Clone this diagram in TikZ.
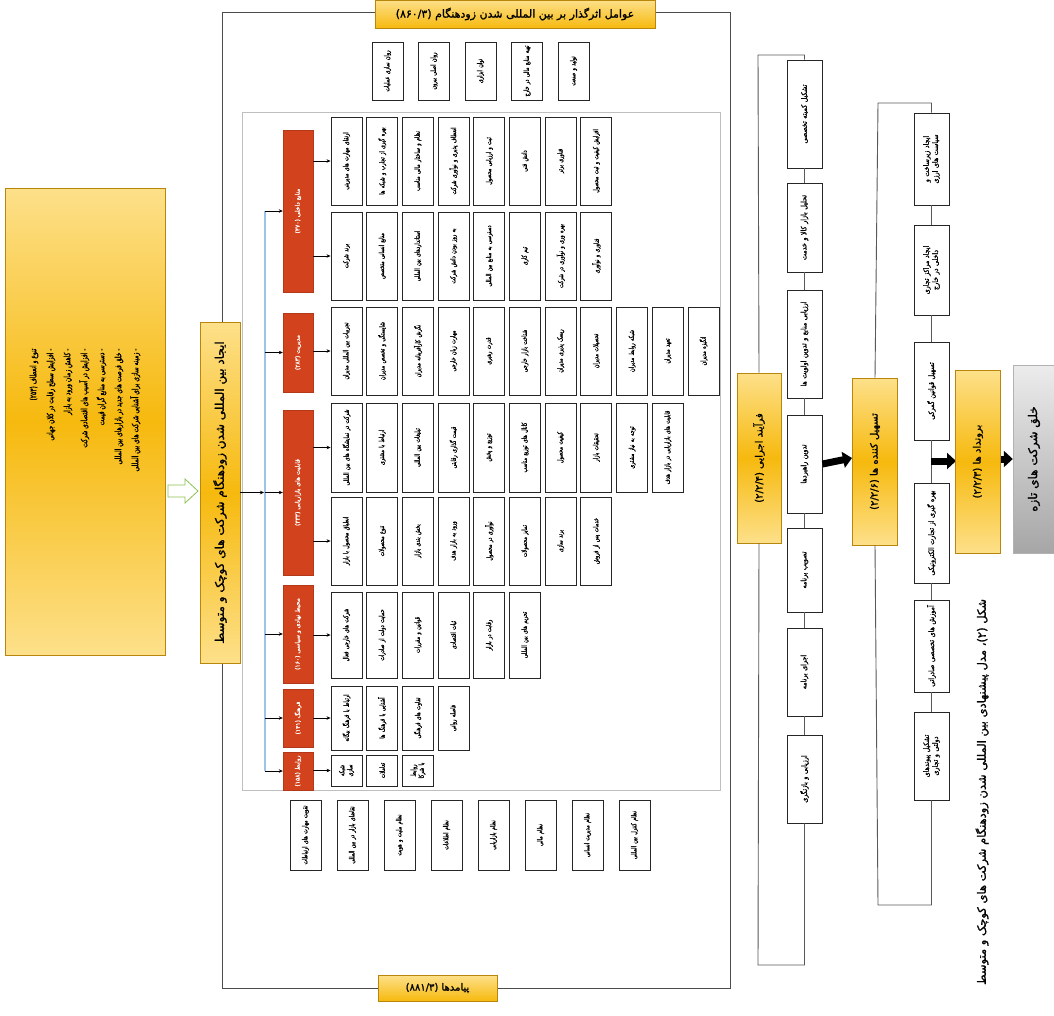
\documentclass[tikz,border=0pt]{standalone}
\usepackage{fontspec}
\newfontfamily\fa[Script=Arabic, FakeBold=1.3, FakeStretch=0.85]{DejaVu Sans}
\newfontfamily\fan[Script=Arabic, FakeBold=1.4, FakeStretch=0.7]{DejaVu Sans}
\newfontfamily\faw[Script=Arabic, FakeBold=1.3]{DejaVu Sans}
\TeXXeTstate=1
\usetikzlibrary{arrows.meta}
\newcommand\fl[1]{\beginR #1\endR}
\definecolor{ylight}{HTML}{FDE08A}
\definecolor{ymid}{HTML}{F6B90E}
\definecolor{yedge}{HTML}{B8860B}
\definecolor{redbox}{HTML}{D2431D}
\definecolor{blueline}{HTML}{9DC3E6}
\definecolor{greenar}{HTML}{8CC152}
\tikzset{
 sbox/.style={draw=black!85, line width=0.9pt, fill=white, rotate=90, font=\fan\fontsize{7}{8}\selectfont, align=center, inner sep=1pt, minimum height=31pt},
 rbox/.style={fill=redbox, draw=redbox!85!black, rotate=90, text=white, font=\faw\fontsize{6}{7}\selectfont, minimum height=30pt, inner sep=1pt},
 ybox/.style={rotate=90, top color=ylight, bottom color=ylight, middle color=ymid, draw=yedge, line width=0.6pt, font=\faw\fontsize{10}{11}\selectfont, inner sep=1pt},
 arr/.style={-{Stealth[length=4pt,width=3.5pt]}, line width=0.6pt, black},
 blk/.style={-{Triangle[length=9pt,width=16pt]}, line width=7pt, black},
 gline/.style={draw=black!65, line width=0.9pt},
}
\newcommand\SB[5]{\pgfmathsetmacro\bw{#4-#3}\pgfmathsetmacro\tw{#4-#3-6}\pgfmathsetmacro\cx{#2+15.5}\pgfmathsetmacro\cy{(#3+#4)/2}\node[sbox, minimum width=\bw pt, text width=\tw pt] (#1) at (\cx,\cy) {\fl{#5}};}
\newcommand\VB[5]{\pgfmathsetmacro\bw{#4-#3}\pgfmathsetmacro\tw{#4-#3-8}\pgfmathsetmacro\cy{(#3+#4)/2}\node[sbox, font=\fa\fontsize{7.5}{9}\selectfont, minimum height=35pt, minimum width=\bw pt, text width=\tw pt] (#1) at (#2,\cy) {#5};}
\begin{document}
\begin{tikzpicture}[x=1pt,y=-1pt]
\useasboundingbox (0,0) rectangle (1054,1015);
\fill[white] (0,0) rectangle (1054,1015);

% ---------- left input box
\node[rotate=90, top color=ylight, bottom color=ylight, middle color=ymid, draw=yedge, line width=0.6pt, minimum width=467pt, minimum height=160pt] (inp) at (85,421.5) {};
\node[rotate=90, font=\fan\fontsize{8.5}{17}\selectfont, align=right, inner sep=0pt] (inptext) at (85,410) {%
\fl{تنوع و انعطاف (۲۵۳)}\\
\fl{- افزایش سطح رقابت در کلان جهانی}\\
\fl{- کاهش زمان ورود به بازار}\\
\fl{- افزایش در آسیب های اقتصادی شرکت}\\
\fl{- دسترسی به منابع گران قیمت}\\
\fl{- خلق فرصت های جدید در بازارهای بین المللی}\\
\fl{- زمینه سازی برای آشنایی شرکت های بین المللی}};

% ---------- big frame
\node[draw=black!70, line width=0.9pt, minimum width=508pt, minimum height=976pt, inner sep=0pt] (frame) at (476,500) {};
\node[draw=black!25, line width=0.7pt, minimum width=478pt, minimum height=678pt, inner sep=0pt] (inner) at (481,451) {};

% green hollow arrow
\draw[greenar, line width=0.8pt, fill=white] (168,485) -- (185,485) -- (185,479) -- (198,491) -- (185,503) -- (185,497) -- (168,497) -- cycle;

% main yellow box
\node[ybox, minimum width=341pt, minimum height=40pt, font=\faw\fontsize{12}{13}\selectfont] (main) at (220,492.5) {\fl{ایجاد بین المللی شدن زودهنگام شرکت های کوچک و متوسط}};

% top / bottom labels of frame
\node[top color=ylight, bottom color=ymid, draw=yedge, line width=0.6pt, minimum width=280pt, minimum height=28pt, font=\faw\fontsize{11}{12}\selectfont, inner sep=1pt] (toplab) at (515,14) {\beginR عوامل اثرگذار بر بین المللی شدن زودهنگام \beginL(۸۶۰/۳)\endL\endR};
\node[top color=ylight, bottom color=ymid, draw=yedge, line width=0.6pt, minimum width=119pt, minimum height=26pt, font=\faw\fontsize{10}{11}\selectfont, inner sep=1pt] (botlab) at (437.5,988) {\beginR پیامدها \beginL(۸۸۱/۳)\endL\endR};

% top row boxes (outside inner box)
\foreach \t [count=\i from 0] in {روان سازی عملیات, روان اصلی بیرون, توان ابزاری, تهیه منابع مالی در خارج, تولید و صنعت}{%
 \pgfmathsetmacro\xl{372+46.5*\i}\SB{top\i}{\xl}{42}{100}{\t}}
% bottom row boxes
\foreach \t [count=\i from 0] in {تقویت مهارت های ارتباطات, تقاضای بازار در بین المللی, نظام ملیت و هویت, نظام اطلاعات, نظام بازاریابی, نظام مالی, نظام مدیریت انسانی, نظام کنترل بین المللی}{%
 \pgfmathsetmacro\xl{290+47*\i}\SB{bot\i}{\xl}{800}{870}{\t}}

% ---------- red boxes
\node[rbox, minimum width=162pt] (r1) at (298,211) {\fl{منابع داخلی (۴۷۰)}};
\node[rbox, minimum width=79pt] (r2) at (298,352.5) {\fl{مدیریت (۲۸۳)}};
\node[rbox, minimum width=165pt] (r3) at (298,492.5) {\fl{قابلیت های بازاریابی (۳۳۳)}};
\node[rbox, minimum width=98pt] (r4) at (298,634) {\fl{محیط نهادی و سیاسی (۱۶۰)}};
\node[rbox, minimum width=58pt] (r5) at (298,718) {\fl{فرهنگ (۱۳۱)}};
\node[rbox, minimum width=38pt] (r6) at (298,771) {\fl{روابط (۱۵۸)}};

% ---------- group rows
\foreach \t [count=\i from 0] in {ارتقای مهارت های مدیریتی, بهره گیری از تجارب و شبکه ها, نظام و ساختار مالی مناسب, انعطاف پذیری و نوآوری شرکت, ثبت و ارزیابی محصول, دانش فنی, فناوری برتر, افزایش کیفیت و ثبت محصول}{%
 \pgfmathsetmacro\xl{331+35.7*\i}\SB{ga\i}{\xl}{117}{205}{\t}}
\foreach \t [count=\i from 0] in {برند شرکت, منابع انسانی متخصص, استانداردهای بین المللی, به روز بودن دانش شرکت, دسترسی به منابع بین المللی, تیم کاری, بهره وری و نوآوری در شرکت, فناوری و نوآوری}{%
 \pgfmathsetmacro\xl{331+35.7*\i}\SB{gb\i}{\xl}{212}{300}{\t}}
\foreach \t [count=\i from 0] in {تجربیات بین المللی مدیران, شایستگی و تخصص مدیران, نگرش کارآفرینانه مدیران, مهارت زبان خارجی, قدرت رهبری, شناخت بازار خارجی, ریسک پذیری مدیران, تحصیلات مدیران, شبکه روابط مدیران, تعهد مدیران, انگیزه مدیران}{%
 \pgfmathsetmacro\xl{331+35.7*\i}\SB{gc\i}{\xl}{307}{395}{\t}}
\foreach \t [count=\i from 0] in {شرکت در نمایشگاه های بین المللی, ارتباط با مشتری, تبلیغات بین المللی, قیمت گذاری رقابتی, توزیع و پخش, کانال های توزیع مناسب, کیفیت محصول, تحقیقات بازار, توجه به نیاز مشتری, قابلیت های بازاریابی در بازار هدف}{%
 \pgfmathsetmacro\xl{331+35.7*\i}\SB{gd\i}{\xl}{403}{492}{\t}}
\foreach \t [count=\i from 0] in {انطباق محصول با بازار, تنوع محصولات, بخش بندی بازار, ورود به بازار هدف, نوآوری در محصول, تمایز محصولات, برند سازی, خدمات پس از فروش}{%
 \pgfmathsetmacro\xl{331+35.7*\i}\SB{ge\i}{\xl}{497}{585}{\t}}
\foreach \t [count=\i from 0] in {شرکت های خارجی فعال, حمایت دولت از صادرات, قوانین و مقررات, ثبات اقتصادی, رقابت در بازار, تحریم های بین المللی}{%
 \pgfmathsetmacro\xl{331+35.7*\i}\SB{gf\i}{\xl}{592}{678}{\t}}
\foreach \t [count=\i from 0] in {ارتباط با فرهنگ بیگانه, آشنایی با فرهنگ ها, تفاوت های فرهنگی, فاصله روانی}{%
 \pgfmathsetmacro\xl{331+35.7*\i}\SB{gg\i}{\xl}{686}{750}{\t}}
\foreach \t [count=\i from 0] in {شبکه سازی, تعاملات, روابط با شرکا}{%
 \pgfmathsetmacro\xl{331+35.7*\i}\SB{gh\i}{\xl}{755}{786}{\t}}

% blue spine and arrows
\coordinate (bl) at (265,0);
\draw[blueline, line width=1.2pt] (r1.north -| bl) -- (r6.north -| bl);
\foreach \r in {r1,r2,r3,r4,r5,r6}{\draw[arr] (\r.north -| bl) -- (\r.north);}
\draw[arr] (main.south) -- ([xshift=-1pt]main.south -| bl);
\foreach \b/\r in {ga0/r1, gb0/r1, gc0/r2, gd0/r3, ge0/r3, gf0/r4, gg0/r5, gh0/r6}{\draw[arr] (\b.north -| \r.south) -- (\b.north);}

% ---------- process section
\node[ybox, minimum width=170pt, minimum height=44pt] (proc) at (759,458) {\fl{فرآیند اجرایی \beginL(۲/۲/۴)\endL}};
\VB{p1}{804.5}{60}{168}{\fl{تشکیل کمیته تخصصی}}
\VB{p2}{804.5}{183}{272}{\fl{تحلیل بازار کالا و خدمت}}
\VB{p3}{804.5}{290}{398}{\fl{ارزیابی منابع و تدوین اولویت ها}}
\VB{p4}{804.5}{415}{513}{\fl{تدوین راهبردها}}
\VB{p5}{804.5}{528}{612}{\fl{تصویب برنامه}}
\VB{p6}{804.5}{628}{716}{\fl{اجرای برنامه}}
\VB{p7}{804.5}{735}{823}{\fl{ارزیابی و بازنگری}}
\draw[gline] (p1.east) -- (p1.east |- 0,55) -- (758,55) -- (proc.east);
\draw[gline] (proc.west) -- (758,965) -- (p7.west |- 0,965) -- (p7.west);
\foreach \a/\b in {p1/p2,p2/p3,p3/p4,p4/p5,p5/p6,p6/p7}{\draw[gline] (\a.west) -- (\b.east);}
\draw[blk] (p4.south) -- (852,458);

% ---------- facilitators
\node[ybox, minimum width=167pt, minimum height=45pt] (fac) at (875,461.5) {\fl{تسهیل کننده ها \beginL(۲/۲/۶)\endL}};
\VB{f1}{931.5}{113}{205}{\fl{ایجاد زیرساخت و سیاست های ارزی}}
\VB{f2}{931.5}{225}{315}{\fl{ایجاد مراکز تجاری داخلی در خارج}}
\VB{f3}{931.5}{342}{440}{\fl{تسهیل قوانین گمرکی}}
\VB{f4}{931.5}{483}{583}{\fl{بهره گیری از تجارت الکترونیکی}}
\VB{f5}{931.5}{600}{692}{\fl{آموزش های تخصصی صادراتی}}
\VB{f6}{931.5}{712}{800}{\fl{تشکیل پیوندهای دولتی و تجاری}}
\draw[gline] (f1.east) -- (f1.east |- 0,103) -- (878,103) -- (fac.east);
\draw[gline] (fac.west) -- (878,905) -- (f6.west |- 0,905) -- (f6.west);
\foreach \a/\b in {f1/f2,f2/f3,f3/f4,f4/f5,f5/f6}{\draw[gline] (\a.west) -- (\b.east);}
\draw[blk] (931,461) -- (956,461);

% ---------- outputs
\node[ybox, minimum width=183pt, minimum height=45pt] (out) at (978,461.5) {\fl{برونداد ها \beginL(۲/۲/۳)\endL}};
\node[rotate=90, top color=gray!15, bottom color=gray!70, draw=gray!60, minimum width=188pt, minimum height=42pt, font=\faw\fontsize{12}{13}\selectfont] (new) at (1034,459) {\fl{خلق شرکت های تازه}};
\draw[blk] (out.south |- new.north) -- (new.north);

% caption
\node[rotate=90, font=\faw\fontsize{11.5}{12}\selectfont, inner sep=0pt] (cap) at (982,792) {\fl{شکل (۲)، مدل پیشنهادی بین المللی شدن زودهنگام شرکت های کوچک و متوسط}};
\end{tikzpicture}
\end{document}
